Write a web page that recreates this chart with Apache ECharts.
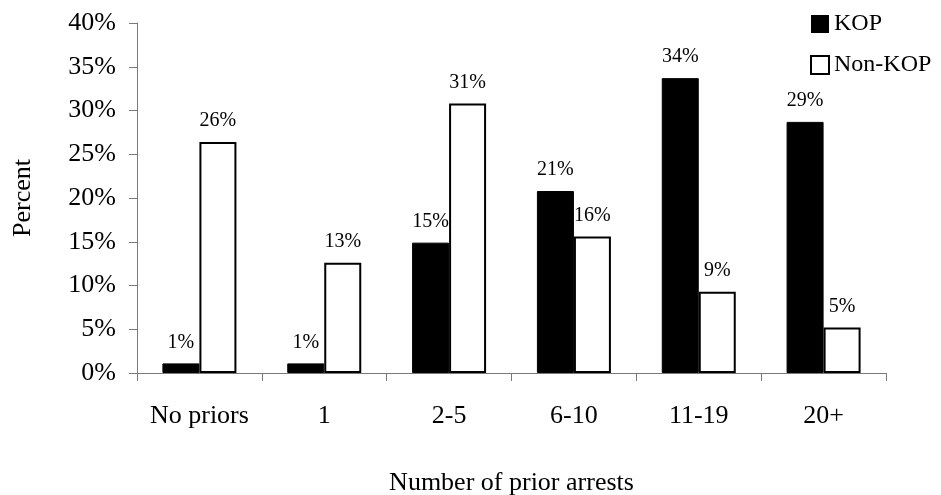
<!DOCTYPE html>
<html>
<head>
<meta charset="utf-8">
<script src="https://cdn.jsdelivr.net/npm/echarts@6/dist/echarts.min.js"></script>
<style>
  html, body { margin: 0; padding: 0; background: #fff; }
  #chart { width: 941px; height: 495px; }
</style>
</head>
<body>
<div id="chart"></div>
<script>
// Share of people by number of prior arrests, KOP vs Non-KOP
const categories = ['No priors', '1', '2-5', '6-10', '11-19', '20+'];
const kopValues = [1.1, 1.1, 14.9, 20.8, 33.7, 28.7];
const nonKopValues = [26.4, 12.6, 30.8, 15.6, 9.3, 5.2];
const yTicks = { min: 0, max: 40, step: 5 };

const FONT = "'Liberation Serif', 'Times New Roman', serif";
const chart = echarts.init(document.getElementById('chart'), null, { renderer: 'canvas' });

const labelStyle = {
  show: true,
  position: 'top',
  distance: 11,
  color: '#000',
  fontFamily: FONT,
  fontSize: 20,
  formatter: p => Math.round(p.value) + '%'
};

chart.setOption({
  animation: false,
  backgroundColor: '#fff',
  grid: { left: 137, right: 55, top: 23, bottom: 122, containLabel: false, outerBoundsMode: 'none' },
  legend: {
    orient: 'vertical',
    left: 810,
    top: 12,
    padding: 0,
    itemWidth: 18,
    itemHeight: 18,
    itemGap: 17,
    icon: 'rect',
    textStyle: { fontFamily: FONT, fontSize: 24, color: '#000' },
    data: [
      { name: 'KOP', itemStyle: { color: '#000', borderColor: '#000', borderWidth: 0 } },
      { name: 'Non-KOP', itemStyle: { color: '#fff', borderColor: '#000', borderWidth: 2 } }
    ]
  },
  xAxis: {
    type: 'category',
    data: categories,
    name: 'Number of prior arrests',
    nameLocation: 'middle',
    nameGap: 97,
    nameTextStyle: { fontFamily: FONT, fontSize: 26, color: '#000' },
    axisLine: { show: true, lineStyle: { color: '#7a7a7a', width: 1 } },
    axisTick: { show: true, inside: false, length: 8, lineStyle: { color: '#7a7a7a' } },
    axisLabel: { interval: 0, fontFamily: FONT, fontSize: 26, color: '#000', margin: 30 },
    splitLine: { show: false }
  },
  yAxis: {
    type: 'value',
    min: yTicks.min,
    max: yTicks.max,
    interval: yTicks.step,
    name: 'Percent',
    nameLocation: 'middle',
    nameGap: 101,
    nameRotate: 90,
    nameTextStyle: { fontFamily: FONT, fontSize: 26, color: '#000' },
    axisLine: { show: true, lineStyle: { color: '#7a7a7a', width: 1 } },
    axisTick: { show: true, inside: false, length: 8, lineStyle: { color: '#7a7a7a' } },
    axisLabel: { fontFamily: FONT, fontSize: 26, color: '#000', margin: 21, formatter: '{value}%' },
    splitLine: { show: false }
  },
  series: [
    {
      name: 'KOP',
      type: 'bar',
      data: kopValues,
      barWidth: 37,
      barGap: '0%',
      itemStyle: { color: '#000', borderColor: '#000', borderWidth: 1 },
      label: labelStyle
    },
    {
      name: 'Non-KOP',
      type: 'bar',
      data: nonKopValues,
      barWidth: 37,
      barGap: '0%',
      itemStyle: { color: '#fff', borderColor: '#000', borderWidth: 2 },
      label: labelStyle
    }
  ]
});
</script>
</body>
</html>
